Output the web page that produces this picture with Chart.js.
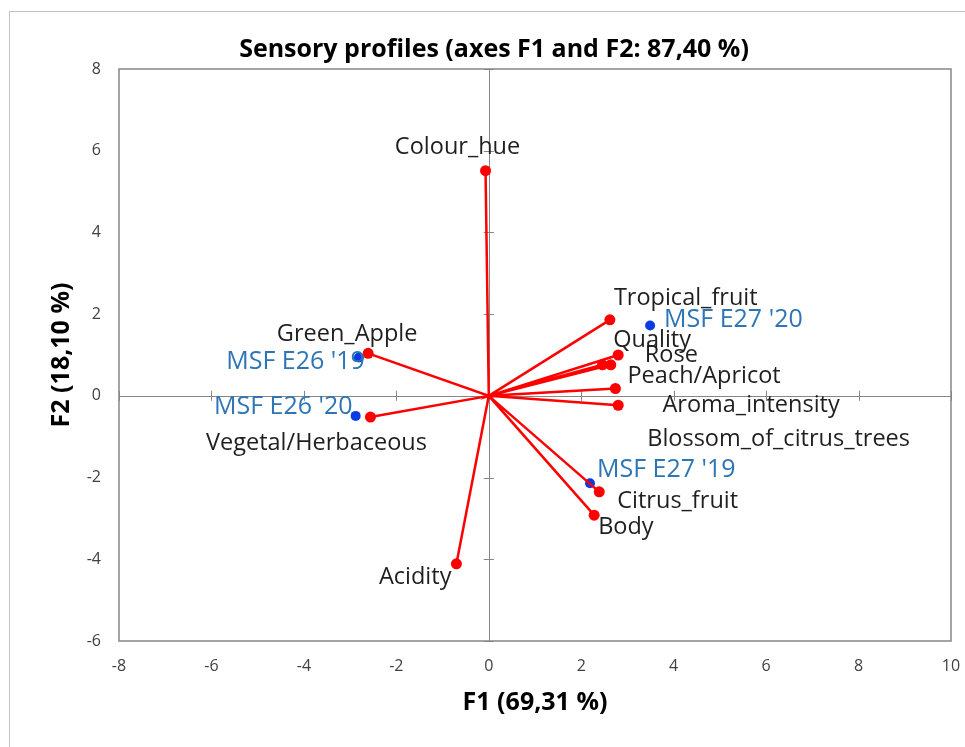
<!DOCTYPE html>
<html>
<head>
<meta charset="utf-8">
<script src="https://cdn.jsdelivr.net/npm/chart.js@4.4.1/dist/chart.umd.min.js"></script>
<style>
  html, body { margin: 0; padding: 0; background: #fff; }
  #wrap { width: 965px; height: 747px; }
</style>
</head>
<body>
<div id="wrap"><canvas id="biplot" width="965" height="747"></canvas></div>
<script>
// ============================
// Biplot data
// ============================
const attrNames = ["Colour_hue", "Tropical_fruit", "Quality", "Rose", "Peach/Apricot",
  "Aroma_intensity", "Blossom_of_citrus_trees", "Citrus_fruit", "Body", "Acidity",
  "Green_Apple", "Vegetal/Herbaceous"];
const attrF1 = [-0.07, 2.62, 2.80, 2.64, 2.46, 2.74, 2.80, 2.39, 2.28, -0.70, -2.61, -2.56];
const attrF2 = [5.51, 1.86, 1.00, 0.76, 0.76, 0.18, -0.23, -2.35, -2.92, -4.11, 1.04, -0.52];

const obsNames = ["MSF E26 '19", "MSF E26 '20", "MSF E27 '20", "MSF E27 '19"];
const obsF1 = [-2.81, -2.88, 3.49, 2.19];
const obsF2 = [0.94, -0.49, 1.72, -2.14];

const xRange = [-8, 10];
const yRange = [-6, 8];
const tickStep = 2;

const chartTitle = "Sensory profiles (axes F1 and F2: 87,40 %)";

// ============================
// Label placement, pixels from the point: [dx, dy, align]
// ============================
const attrLabelPos = [
  [-28, -23, "center"], [4, -22, "left"], [-5, -15, "left"], [34, -9, "left"],
  [25, 12, "left"], [47, 17, "left"], [29, 34, "left"], [18, 9, "left"],
  [4, 12, "left"], [-5, 14, "right"], [-21, -19, "center"], [-54, 26, "center"]
];
const obsLabelPos = [[6, 4, "right"], [-3, -9, "right"], [14, -6, "left"], [7, -13, "left"]];

const FONT = "'Open Sans', 'DejaVu Sans', sans-serif";
const axisGray = "#868686";

// vectors: origin -> attribute, back to origin, next attribute ...
const vectorPoints = [];
attrNames.forEach((name, i) => {
  vectorPoints.push({ x: 0, y: 0 });
  vectorPoints.push({ x: attrF1[i], y: attrF2[i] });
});
const obsPoints = obsNames.map((name, i) => ({ x: obsF1[i], y: obsF2[i] }));

// ============================
// Frame, zero axes, title and labels
// ============================
const biplotDecor = {
  id: "biplotDecor",
  beforeDraw(chart) {
    const ctx = chart.ctx;
    ctx.save();
    ctx.strokeStyle = "#c0c0c0";
    ctx.lineWidth = 1;
    ctx.strokeRect(9.5, 11.5, 1000, 1000);
    ctx.font = "bold 25px " + FONT;
    ctx.fillStyle = "#000";
    ctx.textAlign = "center";
    ctx.textBaseline = "middle";
    ctx.fillText(chartTitle, 494, 50);
    ctx.restore();
  },
  beforeDatasetsDraw(chart) {
    const { ctx, chartArea: a, scales: { x, y } } = chart;
    const x0 = x.getPixelForValue(0);
    const y0 = y.getPixelForValue(0);
    ctx.save();
    ctx.strokeStyle = axisGray;
    ctx.lineWidth = 1;
    ctx.beginPath();
    ctx.moveTo(a.left, Math.round(y0) + 0.5);
    ctx.lineTo(a.right, Math.round(y0) + 0.5);
    ctx.moveTo(Math.round(x0) + 0.5, a.top);
    ctx.lineTo(Math.round(x0) + 0.5, a.bottom);
    x.ticks.forEach((t) => {
      const px = Math.round(x.getPixelForValue(t.value)) + 0.5;
      ctx.moveTo(px, y0 - 5);
      ctx.lineTo(px, y0 + 5);
    });
    y.ticks.forEach((t) => {
      const py = Math.round(y.getPixelForValue(t.value)) + 0.5;
      ctx.moveTo(x0 - 5, py);
      ctx.lineTo(x0 + 5, py);
    });
    ctx.stroke();
    ctx.lineWidth = 1.5;
    ctx.strokeRect(a.left, a.top, a.right - a.left, a.bottom - a.top);
    ctx.restore();
  },
  afterDatasetsDraw(chart) {
    const { ctx, scales: { x, y } } = chart;
    ctx.save();
    ctx.textBaseline = "middle";
    ctx.font = "23.5px " + FONT;
    ctx.fillStyle = "#1f1f1f";
    attrNames.forEach((name, i) => {
      const [dx, dy, align] = attrLabelPos[i];
      ctx.textAlign = align;
      ctx.fillText(name, x.getPixelForValue(attrF1[i]) + dx, y.getPixelForValue(attrF2[i]) + dy);
    });
    ctx.font = "25px " + FONT;
    ctx.fillStyle = "#2e75b6";
    obsNames.forEach((name, i) => {
      const [dx, dy, align] = obsLabelPos[i];
      ctx.textAlign = align;
      ctx.fillText(name, x.getPixelForValue(obsF1[i]) + dx, y.getPixelForValue(obsF2[i]) + dy);
    });
    ctx.restore();
  }
};

new Chart(document.getElementById("biplot"), {
  type: "scatter",
  data: {
    datasets: [
      {
        label: "Variables",
        data: vectorPoints,
        showLine: true,
        borderColor: "#ff0000",
        borderWidth: 2.5,
        backgroundColor: "#ff0000",
        pointBorderWidth: 0,
        pointRadius: (c) => (c.dataIndex % 2 === 0 ? 0 : 5.5)
      },
      {
        label: "Observations",
        data: obsPoints,
        backgroundColor: "#0a3ce6",
        borderColor: "#0a3ce6",
        pointBorderWidth: 0,
        pointRadius: 5
      }
    ]
  },
  options: {
    responsive: false,
    animation: false,
    layout: { padding: { left: 0, right: 14, top: 69, bottom: 0 } },
    plugins: {
      legend: { display: false },
      tooltip: { enabled: false },
      title: { display: false }
    },
    scales: {
      x: {
        type: "linear",
        min: xRange[0],
        max: xRange[1],
        grid: { display: false, drawTicks: false },
        border: { display: false },
        ticks: { stepSize: tickStep, color: "#404040", font: { family: FONT, size: 16 }, padding: 16, maxRotation: 0 },
        title: {
          display: true,
          text: "F1 (69,31 %)",
          color: "#000",
          font: { family: FONT, size: 25, weight: "bold" },
          padding: { top: 0, bottom: 29 }
        },
        afterFit: (s) => { s.height = 106; s.paddingLeft = 0; s.paddingRight = 0; }
      },
      y: {
        type: "linear",
        min: yRange[0],
        max: yRange[1],
        grid: { display: false, drawTicks: false },
        border: { display: false },
        ticks: { stepSize: tickStep, color: "#404040", font: { family: FONT, size: 16 }, padding: 18 },
        title: {
          display: true,
          text: "F2 (18,10 %)",
          color: "#000",
          font: { family: FONT, size: 25, weight: "bold" },
          padding: { top: 47, bottom: 0 }
        },
        afterFit: (s) => { s.width = 119; s.paddingTop = 0; s.paddingBottom = 0; }
      }
    }
  },
  plugins: [biplotDecor]
});
</script>
</body>
</html>
